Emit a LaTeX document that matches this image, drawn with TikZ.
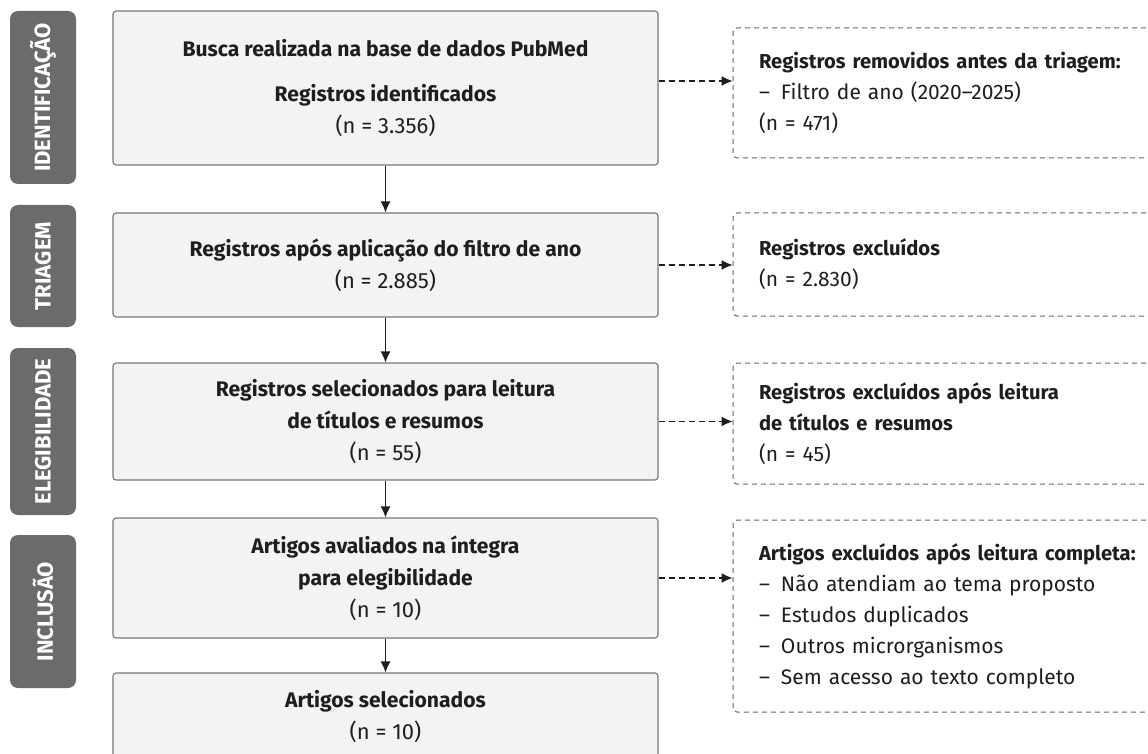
\documentclass[tikz,border=0pt]{standalone}
\usepackage{fontspec}
\setmainfont{Fira Sans}[BoldFeatures={Scale=0.96}]
\usetikzlibrary{arrows.meta}
\definecolor{phasegray}{HTML}{6B6B6B}
\definecolor{boxfill}{HTML}{F3F3F3}
\definecolor{boxline}{HTML}{777777}
\definecolor{dashline}{HTML}{666666}
\definecolor{ink}{HTML}{1E1E1E}
\newcommand{\bul}{\makebox[22pt][l]{--}}

\begin{document}
\begin{tikzpicture}[
    x=1pt, y=-1pt,
    phase/.style = {rectangle, rounded corners=8pt, fill=phasegray, text=white, rotate=90, minimum height=66pt, font=\fontsize{23}{26}\selectfont\bfseries},
    stage/.style = {rectangle, rounded corners=3pt, draw=boxline, fill=boxfill, line width=1.1pt, minimum width=545pt, align=center, text=ink, font=\fontsize{22}{32}\selectfont},
    excl/.style = {rectangle, rounded corners=4pt, draw=dashline, fill=white, dash pattern=on 5pt off 4pt, line width=1pt, minimum width=552pt, text width=500pt, inner xsep=26pt, align=left, text=ink, font=\fontsize{21}{31}\selectfont},
    flow/.style = {-{Latex[length=11pt,width=10pt]}, line width=1.2pt, draw=ink},
    skip/.style = {flow, dash pattern=on 6pt off 4pt}
]
    \useasboundingbox (0,0) rectangle (1148,754);
    \clip (0,0) rectangle (1148,754);

    % Phase labels
    \node[phase, minimum width=173pt] (pid) at (43,97.5) {IDENTIFICAÇÃO};
    \node[phase, minimum width=122pt] (ptr) at (43,266) {TRIAGEM};
    \node[phase, minimum width=167pt] (pel) at (43,431.5) {ELEGIBILIDADE};
    \node[phase, minimum width=153pt] (pin) at (43,611.5) {INCLUSÃO};

    % Main flow
    \node[stage, minimum height=154pt] (s1) at (385.5,88) {\textbf{Busca realizada na base de dados PubMed} \\[13pt] \textbf{Registros identificados} \\ (n = 3.356)};
    \node[stage, minimum height=104pt] (s2) at (385.5,265) {\textbf{Registros após aplicação do filtro de ano} \\ (n = 2.885)};
    \node[stage, minimum height=117pt] (s3) at (385.5,421.5) {\textbf{Registros selecionados para leitura} \\ \textbf{de títulos e resumos} \\ (n = 55)};
    \node[stage, minimum height=120pt] (s4) at (385.5,578) {\textbf{Artigos avaliados na íntegra} \\ \textbf{para elegibilidade} \\ (n = 10)};
    \node[stage, minimum height=88pt] (s5) at (385.5,717) {\textbf{Artigos selecionados} \\ (n = 10)};

    % Exclusions
    \node[excl, minimum height=130pt] (x1) at (1009,93) {\textbf{Registros removidos antes da triagem:} \\ \bul Filtro de ano (2020--2025) \\ (n = 471)};
    \node[excl, minimum height=103pt] (x2) at (1009,264.5) {\textbf{Registros excluídos} \\ (n = 2.830)};
    \node[excl, minimum height=121pt] (x3) at (1009,423.5) {\textbf{Registros excluídos após leitura} \\ \textbf{de títulos e resumos} \\ (n = 45)};
    \node[excl, minimum height=192pt] (x4) at (1009,616) {\textbf{Artigos excluídos após leitura completa:} \\ \bul Não atendiam ao tema proposto \\ \bul Estudos duplicados \\ \bul Outros microrganismos \\ \bul Sem acesso ao texto completo};

    % Arrows
    \draw[flow] (s1) -- (s2);
    \draw[flow] (s2) -- (s3);
    \draw[flow] (s3) -- (s4);
    \draw[flow] (s4) -- (s5);
    \draw[skip] ([yshift=7pt]s1.east) -- ([yshift=7pt]s1.east -| x1.west);
    \draw[skip] (s2.east) -- (s2.east -| x2.west);
    \draw[skip] (s3.east) -- (s3.east -| x3.west);
    \draw[skip] (s4.east) -- (s4.east -| x4.west);
\end{tikzpicture}
\end{document}
